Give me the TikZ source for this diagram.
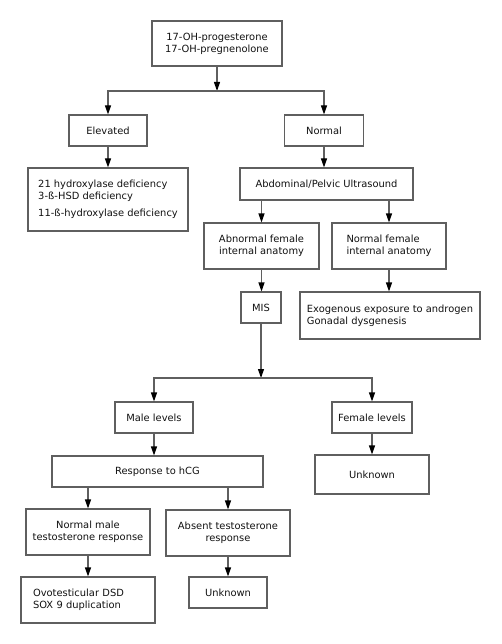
\documentclass[tikz,border=0pt]{standalone}
\usepackage{fontspec}
\setmainfont{DejaVu Sans}
\usetikzlibrary{arrows.meta}
\definecolor{linegray}{HTML}{5F5F5F}
\definecolor{txt}{HTML}{111111}
\tikzset{
  box/.style={draw=linegray, line width=1.1pt, inner sep=0pt, align=center, text=txt,
    font=\fontsize{9.9}{12}\selectfont},
  conn/.style={draw=linegray, line width=1.1pt},
  arr/.style={conn, -{Triangle[length=9pt,width=6pt,color=black]}},
}
\begin{document}
\begin{tikzpicture}[x=1pt,y=-1pt]
\useasboundingbox (0,0) rectangle (502,644);
\node[box, minimum width=130, minimum height=45] (top) at (217,43.5) {17-OH-progesterone\\17-OH-pregnenolone};
\node[box, minimum width=78, minimum height=31] (elev) at (108,130.5) {Elevated};
\node[box, minimum width=79, minimum height=31] (norm) at (324,130.5) {Normal};
\node[box, minimum width=160, minimum height=63, align=left] (def) at (108,199.5) {21 hydroxylase deficiency\\3-ß-HSD deficiency\\[5pt]11-ß-hydroxylase deficiency};
\node[box, minimum width=173, minimum height=32] (us) at (326.5,184) {Abdominal/Pelvic Ultrasound};
\node[box, minimum width=115, minimum height=46] (abn) at (261.5,246) {Abnormal female\\internal anatomy};
\node[box, minimum width=114, minimum height=46, align=left] (nfem) at (389,246) {Normal female\\internal anatomy};
\node[box, minimum width=40, minimum height=31] (mis) at (261,307.5) {MIS};
\node[box, minimum width=180, minimum height=47, align=left] (exo) at (390,315.5) {Exogenous exposure to androgen\\Gonadal dysgenesis};
\node[box, minimum width=78, minimum height=31] (male) at (154,417.5) {Male levels};
\node[box, minimum width=80, minimum height=31] (fem) at (372,417.5) {Female levels};
\node[box, minimum width=211, minimum height=31] (resp) at (157.5,471.5) {Response to hCG};
\node[box, minimum width=114, minimum height=39] (unk1) at (372,474.5) {Unknown};
\node[box, minimum width=124, minimum height=46] (nmale) at (88,532) {Normal male\\testosterone response};
\node[box, minimum width=124, minimum height=46] (abs) at (228,533) {Absent testosterone\\response};
\node[box, minimum width=134, minimum height=46, text width=110, align=left] (ovo) at (88,600) {Ovotesticular DSD\\SOX 9 duplication};
\node[box, minimum width=78, minimum height=31] (unk2) at (228,592.5) {Unknown};
\coordinate (j1) at (217,91);
\coordinate (j2) at (261,378);
\draw[arr] (top.south) -- (j1);
\draw[arr] (j1) -| (elev.north);
\draw[arr] (j1) -| (norm.north);
\draw[arr] (elev) -- (def);
\draw[arr] (norm) -- (norm.south |- us.north);
\draw[arr] (abn.north |- us.south) -- (abn.north);
\draw[arr] (nfem.north |- us.south) -- (nfem.north);
\draw[arr] (abn) -- (abn.south |- mis.north);
\draw[arr] (nfem.south) -- (nfem.south |- exo.north);
\draw[arr] (mis.south) -- (j2);
\draw[arr] (j2) -| (male.north);
\draw[arr] (j2) -| (fem.north);
\draw[arr] (male.south) -- (male.south |- resp.north);
\draw[arr] (fem) -- (unk1);
\draw[arr] (nmale.north |- resp.south) -- (nmale.north);
\draw[arr] (abs.north |- resp.south) -- (abs.north);
\draw[arr] (nmale) -- (ovo);
\draw[arr] (abs) -- (unk2);
\end{tikzpicture}
\end{document}
